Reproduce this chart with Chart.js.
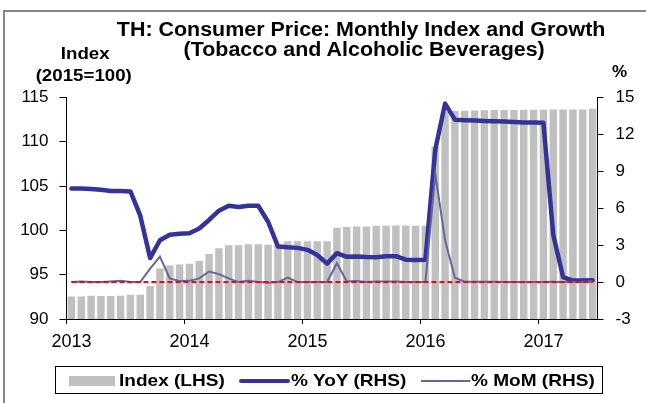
<!DOCTYPE html>
<html>
<head>
<meta charset="utf-8">
<script src="https://cdn.jsdelivr.net/npm/chart.js@4.4.1/dist/chart.umd.min.js"></script>
<style>
  body { margin: 0; background: #fff; font-family: 'Liberation Sans', Arial, sans-serif; }
  #wrap { position: relative; width: 646px; height: 403px; overflow: hidden; }
  #c { position: absolute; left: 0; top: 0; }
  .txt { position: absolute; white-space: nowrap; font-weight: bold; color: #000; line-height: 20px; }
  .stretch { transform-origin: left top; }
  #frameL { position: absolute; left: 3px; top: 10px; width: 2px; height: 393px; background: #858585; }
  #frameT { position: absolute; left: 3px; top: 10px; width: 643px; height: 2px; background: #858585; }
  #legend { position: absolute; left: 55px; top: 366px; width: 548px; height: 28px; border: 1px solid #000; box-sizing: border-box; }
</style>
</head>
<body>
<div id="wrap">
  <canvas id="c" width="646" height="403"></canvas>
  <div id="frameL"></div>
  <div id="frameT"></div>

  <div class="txt" id="t1" style="font-size:19.5px; top:19px; left:0; width:646px; text-align:center;">
    <span style="display:inline-block; transform:scaleX(1.1); position:relative; left:38px;">TH: Consumer Price: Monthly Index and Growth</span>
  </div>
  <div class="txt" id="t2" style="font-size:19.5px; top:39px; left:0; width:646px; text-align:center;">
    <span style="display:inline-block; transform:scaleX(1.1); position:relative; left:41px;">(Tobacco and Alcoholic Beverages)</span>
  </div>

  <div class="txt" style="font-size:17px; top:44px; left:0; width:170px; text-align:center;">
    <span style="display:inline-block; transform:scaleX(1.1);">Index</span>
  </div>
  <div class="txt" style="font-size:17px; top:66px; left:0; width:168px; text-align:center;">
    <span style="display:inline-block; transform:scaleX(1.1);">(2015=100)</span>
  </div>
  <div class="txt" style="font-size:17px; top:62px; left:612px;">%</div>

  <div id="legend"></div>
  <div style="position:absolute; left:69px; top:376px; width:46px; height:10px; background:#c0c0c0;"></div>
  <div class="txt stretch" style="font-size:17px; top:371px; left:119px; transform:scaleX(1.12);">Index (LHS)</div>
  <div style="position:absolute; left:239px; top:379px; width:51px; height:4px; background:#333399; border-radius:2px;"></div>
  <div class="txt stretch" style="font-size:17px; top:371px; left:291px; transform:scaleX(1.12);">% YoY (RHS)</div>
  <div style="position:absolute; left:421px; top:380px; width:49px; height:2px; background:#666699;"></div>
  <div class="txt stretch" style="font-size:17px; top:371px; left:471px; transform:scaleX(1.12);">% MoM (RHS)</div>
</div>

<script>
// monthly categories, Jan 2013 .. Jun 2017
const months = [
  '2013-01','2013-02','2013-03','2013-04','2013-05','2013-06','2013-07','2013-08','2013-09','2013-10','2013-11','2013-12',
  '2014-01','2014-02','2014-03','2014-04','2014-05','2014-06','2014-07','2014-08','2014-09','2014-10','2014-11','2014-12',
  '2015-01','2015-02','2015-03','2015-04','2015-05','2015-06','2015-07','2015-08','2015-09','2015-10','2015-11','2015-12',
  '2016-01','2016-02','2016-03','2016-04','2016-05','2016-06','2016-07','2016-08','2016-09','2016-10','2016-11','2016-12',
  '2017-01','2017-02','2017-03','2017-04','2017-05','2017-06'
];

// Index (2015=100), LHS
const indexLevel = [
  92.5, 92.5, 92.6, 92.55, 92.55, 92.6, 92.7, 92.7, 93.7, 95.65, 96.0, 96.1,
  96.2, 96.5, 97.3, 97.95, 98.3, 98.3, 98.4, 98.4, 98.35, 98.4, 98.75, 98.75,
  98.75, 98.75, 98.75, 100.25, 100.35, 100.4, 100.4, 100.45, 100.48, 100.52, 100.52, 100.5,
  100.5, 109.4, 113.3, 113.45, 113.48, 113.5, 113.52, 113.54, 113.55, 113.56, 113.57, 113.58,
  113.58, 113.6, 113.6, 113.6, 113.62, 113.7
];

// % YoY, RHS
const yoyPct = [
  7.6, 7.6, 7.57, 7.5, 7.4, 7.4, 7.37, 5.4, 1.95, 3.4, 3.85, 3.92,
  3.97, 4.35, 5.05, 5.8, 6.2, 6.1, 6.2, 6.2, 4.9, 2.9, 2.83, 2.78,
  2.62, 2.2, 1.5, 2.35, 2.05, 2.08, 2.03, 2.02, 2.1, 2.1, 1.82, 1.8,
  1.82, 10.75, 14.5, 13.2, 13.16, 13.13, 13.1, 13.07, 13.04, 13.0, 12.97, 12.96,
  12.95, 3.85, 0.4, 0.12, 0.12, 0.15
];

// % MoM, RHS
const momPct = [
  0, 0.05, 0, 0, 0.05, 0.1, 0, 0, 1.1, 2.07, 0.3, 0.08,
  0.1, 0.3, 0.86, 0.65, 0.3, 0, 0.1, 0, -0.05, 0, 0.37, 0,
  0, 0, 0, 1.53, 0.05, 0.08, 0, 0.04, 0.04, 0.05, 0, 0,
  0, 8.8, 3.4, 0.35, 0.03, 0.02, 0.02, 0.02, 0.01, 0.01, 0.01, 0.01,
  0, 0.02, 0, 0, 0.02, 0.07
];

const zeroLevel = 0;

Chart.defaults.font.family = "'Liberation Sans', Arial, sans-serif";
Chart.defaults.color = '#000';

const ctx = document.getElementById('c').getContext('2d');
const chart = new Chart(ctx, {
  type: 'bar',
  data: {
    labels: months,
    datasets: [
      {
        type: 'line',
        label: 'zero',
        data: [{ x: months[0], y: zeroLevel }, { x: months[months.length - 1], y: zeroLevel }],
        borderColor: '#ff0000',
        borderWidth: 2,
        borderDash: [5, 3],
        pointRadius: 0,
        yAxisID: 'yR',
        order: 0
      },
      {
        type: 'line',
        label: '% MoM (RHS)',
        data: momPct,
        borderColor: '#666699',
        borderWidth: 2,
        pointRadius: 0,
        tension: 0,
        yAxisID: 'yR',
        order: 1
      },
      {
        type: 'line',
        label: '% YoY (RHS)',
        data: yoyPct,
        borderColor: '#333399',
        borderWidth: 4.5,
        borderJoinStyle: 'round',
        borderCapStyle: 'round',
        pointRadius: 0,
        tension: 0,
        yAxisID: 'yR',
        order: 2
      },
      {
        type: 'bar',
        label: 'Index (LHS)',
        data: indexLevel,
        backgroundColor: '#c0c0c0',
        barThickness: 6.8,
        yAxisID: 'yL',
        order: 3
      }
    ]
  },
  options: {
    responsive: false,
    animation: false,
    layout: { padding: { top: 97.5, bottom: 44, left: 0, right: 0 } },
    plugins: { legend: { display: false }, tooltip: { enabled: false } },
    scales: {
      x: {
        type: 'category',
        offset: true,
        grid: {
          offset: true,
          drawOnChartArea: false,
          tickLength: 5,
          tickColor: (c) => (c.index !== undefined && c.index % 12 === 0 ? '#000' : 'rgba(0,0,0,0)')
        },
        border: { color: '#000', width: 1 },
        ticks: {
          autoSkip: false,
          maxRotation: 0,
          padding: 7,
          font: { size: 18 },
          callback: (v, i) => (i % 12 === 0 ? months[i].slice(0, 4) : '')
        },
        afterFit: (s) => { s.height = 40; }
      },
      yL: {
        position: 'left',
        min: 90,
        max: 115,
        grid: { drawOnChartArea: false, tickLength: 7, tickColor: '#000' },
        border: { color: '#000', width: 1 },
        ticks: { stepSize: 5, padding: 11, font: { size: 17 } },
        afterFit: (s) => { s.width = 66.5; }
      },
      yR: {
        position: 'right',
        min: -3,
        max: 15,
        grid: { drawOnChartArea: false, tickLength: 6, tickColor: '#000' },
        border: { color: '#000', width: 1 },
        ticks: { stepSize: 3, padding: 12, font: { size: 17 } },
        afterFit: (s) => { s.width = 48.5; }
      }
    }
  }
});
</script>
</body>
</html>
